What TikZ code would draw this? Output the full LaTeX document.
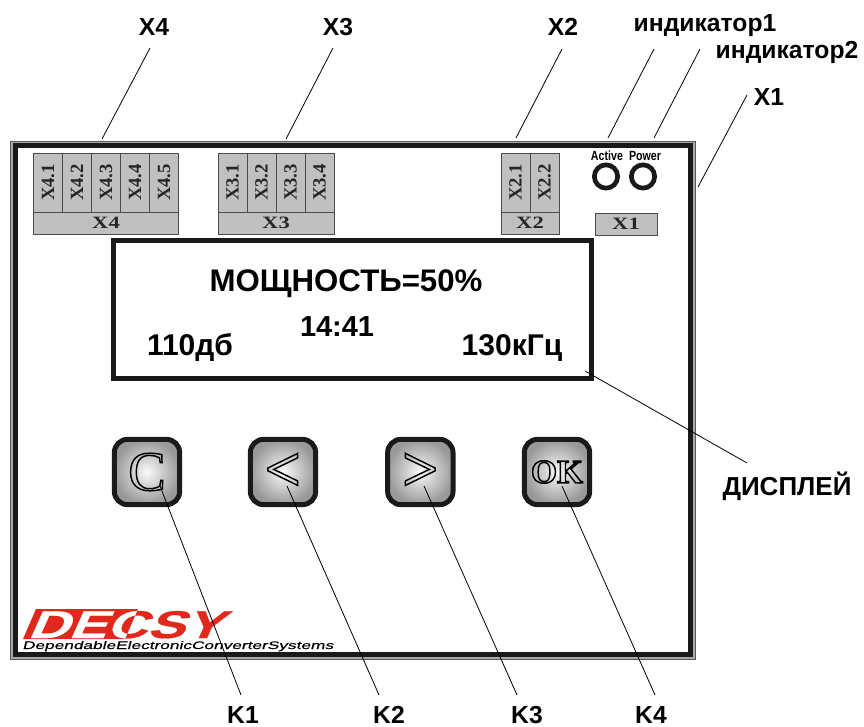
\documentclass[tikz,border=0pt]{standalone}
\usepackage{fontspec}
\setmainfont{Liberation Sans}
\newfontfamily\cellfont{Liberation Serif}
\newfontfamily\barfont{Liberation Serif}[FakeStretch=1.3]
\newfontfamily\tinyfont{Liberation Sans}[FakeStretch=0.8]
\newfontfamily\logofont{Liberation Sans}[FakeSlant=0.45,FakeStretch=1.46,FakeBold=0.5]
\newfontfamily\taglinefont{Liberation Sans}[FakeSlant=0.25,FakeStretch=1.58,FakeBold=0.5]
\usetikzlibrary{positioning}
\definecolor{panelblack}{HTML}{1C1A18}
\definecolor{cellgray}{HTML}{C0C0C0}
\definecolor{rimgray}{HTML}{A8A8A8}
\definecolor{logored}{HTML}{E0281C}
\newcommand{\outlined}[1]{\special{pdf:code 1 Tr 1.1 w}#1\special{pdf:code 0 Tr}}
\tikzset{
    callout/.style={font=\bfseries\fontsize{18.5}{20}\selectfont, anchor=base, inner sep=0pt},
    leader/.style={thin, line width=0.6pt},
    readout/.style={font=\bfseries\fontsize{22.5}{24}\selectfont, anchor=base, inner sep=0pt},
    cell/.style={rectangle, draw=black!70, fill=cellgray, outer sep=0pt, inner sep=0pt, line width=0.6pt, minimum width=21.75pt, minimum height=44.25pt, font=\cellfont\bfseries\fontsize{14}{14}\selectfont, text=black!85},
    cellbar/.style={rectangle, draw=black!70, fill=cellgray, outer sep=0pt, inner sep=0pt, line width=0.6pt, minimum height=16.5pt, anchor=north west, font=\barfont\bfseries\fontsize{13}{13}\selectfont, text=black!85},
    keybtn/.style={rectangle, rounded corners=10pt, draw=panelblack, line width=3.75pt, outer sep=0pt, minimum size=49pt, inner sep=0pt, inner color=white!96!gray, outer color=black!40, shading=radial},
    lamp/.style={circle, draw=panelblack, line width=3.5pt, outer sep=0pt, minimum size=17.5pt, inner sep=0pt},
    lamptext/.style={font=\tinyfont\bfseries\fontsize{10}{10}\selectfont, inner sep=0pt}
}
\begin{document}
\begin{tikzpicture}[x=0.75pt, y=-0.75pt]
\useasboundingbox (0,0) rectangle (864,727);

% panel frame
\node[rectangle, draw=black!65, fill=rimgray, line width=0.6pt, minimum width=513.75pt, minimum height=388.5pt, inner sep=0pt] (rim) at (352.5,400) {};
\node[rectangle, draw=panelblack, fill=white, line width=3.9pt, minimum width=506pt, minimum height=381.5pt, inner sep=0pt] (panel) at (353,400) {};

% connectors
\node[cell] (X41) at (48,182.5) {\rotatebox{90}{X4.1}};
\node[cell, right=0pt of X41] (X42) {\rotatebox{90}{X4.2}};
\node[cell, right=0pt of X42] (X43) {\rotatebox{90}{X4.3}};
\node[cell, right=0pt of X43] (X44) {\rotatebox{90}{X4.4}};
\node[cell, right=0pt of X44] (X45) {\rotatebox{90}{X4.5}};
\node[cellbar, minimum width=108.75pt] (X4bar) at (X41.south west) {X4};

\node[cell] (X31) at (232.5,182.5) {\rotatebox{90}{X3.1}};
\node[cell, right=0pt of X31] (X32) {\rotatebox{90}{X3.2}};
\node[cell, right=0pt of X32] (X33) {\rotatebox{90}{X3.3}};
\node[cell, right=0pt of X33] (X34) {\rotatebox{90}{X3.4}};
\node[cellbar, minimum width=87pt] (X3bar) at (X31.south west) {X3};

\node[cell] (X21) at (515.5,182.5) {\rotatebox{90}{X2.1}};
\node[cell, right=0pt of X21] (X22) {\rotatebox{90}{X2.2}};
\node[cellbar, minimum width=43.5pt] (X2bar) at (X21.south west) {X2};

\node[cellbar, minimum width=46.5pt] (X1bar) at (595,213) {X1};

% indicators
\node[lamp] (lamp1) at (606,176.5) {};
\node[lamp, right=10.25pt of lamp1] (lamp2) {};
\node[lamptext] (lamp1text) at (607,155.5) {Active};
\node[lamptext] (lamp2text) at (645,155.5) {Power};

% display
\node[rectangle, draw=panelblack, line width=3.75pt, minimum width=358.5pt, minimum height=103.5pt, inner sep=0pt] (display) at (352.5,309.5) {};
\node[readout, font=\bfseries\fontsize{23.4}{24}\selectfont] (power) at (346,292) {МОЩНОСТЬ=50\%};
\node[readout, font=\bfseries\fontsize{21.7}{24}\selectfont] (clock) at (337,337) {14:41};
\node[readout] (level) at (190,355) {110дб};
\node[readout] (freq) at (512,355) {130кГц};

% keys
\node[keybtn, font=\cellfont\fontsize{42}{42}\selectfont] (key1) at (147,472) {\outlined{C}};
\node[keybtn, right=53pt of key1, font=\cellfont\bfseries\fontsize{48}{48}\selectfont] (key2) {\outlined{<}};
\node[keybtn, right=54pt of key2, font=\cellfont\bfseries\fontsize{48}{48}\selectfont] (key3) {\outlined{>}};
\node[keybtn, right=53.5pt of key3, font=\cellfont\bfseries\fontsize{25}{25}\selectfont] (key4) {\outlined{OK}};

% logo
\node[font=\logofont\bfseries\fontsize{29}{29}\selectfont, text=logored, anchor=base west, inner sep=0pt] (logoback) at (27,638) {DECSY};
\fill[logored] (36,609) coordinate (plate1) -- (138,609) coordinate (plate2) -- (125,639) coordinate (plate3) -- (23,639) coordinate (plate4) -- cycle;
\begin{scope}
\clip (plate1) -- (plate2) -- (plate3) -- (plate4) -- cycle;
\node[font=\logofont\bfseries\fontsize{29}{29}\selectfont, text=white, anchor=base west, inner sep=0pt] (logofront) at (27,638) {DEC};
\end{scope}
\node[font=\taglinefont\fontsize{8.2}{8}\selectfont, anchor=base west, inner sep=0pt] (tagline) at (22,649) {DependableElectronicConverterSystems};

% callouts
\node[callout] (lblX4) at (154,36) {X4};
\node[callout] (lblX3) at (338,36) {X3};
\node[callout] (lblX2) at (563,36) {X2};
\node[callout] (lblI1) at (705,32) {индикатор1};
\node[callout] (lblI2) at (787,59) {индикатор2};
\node[callout] (lblX1) at (769,106) {X1};
\node[callout, font=\bfseries\fontsize{19.5}{20}\selectfont] (lblDisp) at (787,495) {ДИСПЛЕЙ};
\node[callout] (lblK1) at (243,723) {K1};
\node[callout] (lblK2) at (389,723) {K2};
\node[callout] (lblK3) at (527,723) {K3};
\node[callout] (lblK4) at (651,723) {K4};

% leader ends
\coordinate (endX4) at (150,48);   \coordinate (tipX4) at (102,139);
\coordinate (endX3) at (333,48);   \coordinate (tipX3) at (286,139);
\coordinate (endX2) at (562,49);   \coordinate (tipX2) at (516,138);
\coordinate (endI1) at (654,49);   \coordinate (tipI1) at (608,138);
\coordinate (endI2) at (700,49);   \coordinate (tipI2) at (654,138);
\coordinate (endX1) at (747,95);   \coordinate (tipX1) at (698,187);
\coordinate (endDisp) at (747,463); \coordinate (tipDisp) at (585,371);
\coordinate (endK1) at (241,695);  \coordinate (tipK1) at (160,486);
\coordinate (endK2) at (379,695);  \coordinate (tipK2) at (287,486);
\coordinate (endK3) at (517,695);  \coordinate (tipK3) at (424,486);
\coordinate (endK4) at (655,695);  \coordinate (tipK4) at (562,486);

\draw[leader] (endX4) -- (tipX4);
\draw[leader] (endX3) -- (tipX3);
\draw[leader] (endX2) -- (tipX2);
\draw[leader] (endI1) -- (tipI1);
\draw[leader] (endI2) -- (tipI2);
\draw[leader] (endX1) -- (tipX1);
\draw[leader] (endDisp) -- (tipDisp);
\draw[leader] (endK1) -- (tipK1);
\draw[leader] (endK2) -- (tipK2);
\draw[leader] (endK3) -- (tipK3);
\draw[leader] (endK4) -- (tipK4);

\end{tikzpicture}
\end{document}
